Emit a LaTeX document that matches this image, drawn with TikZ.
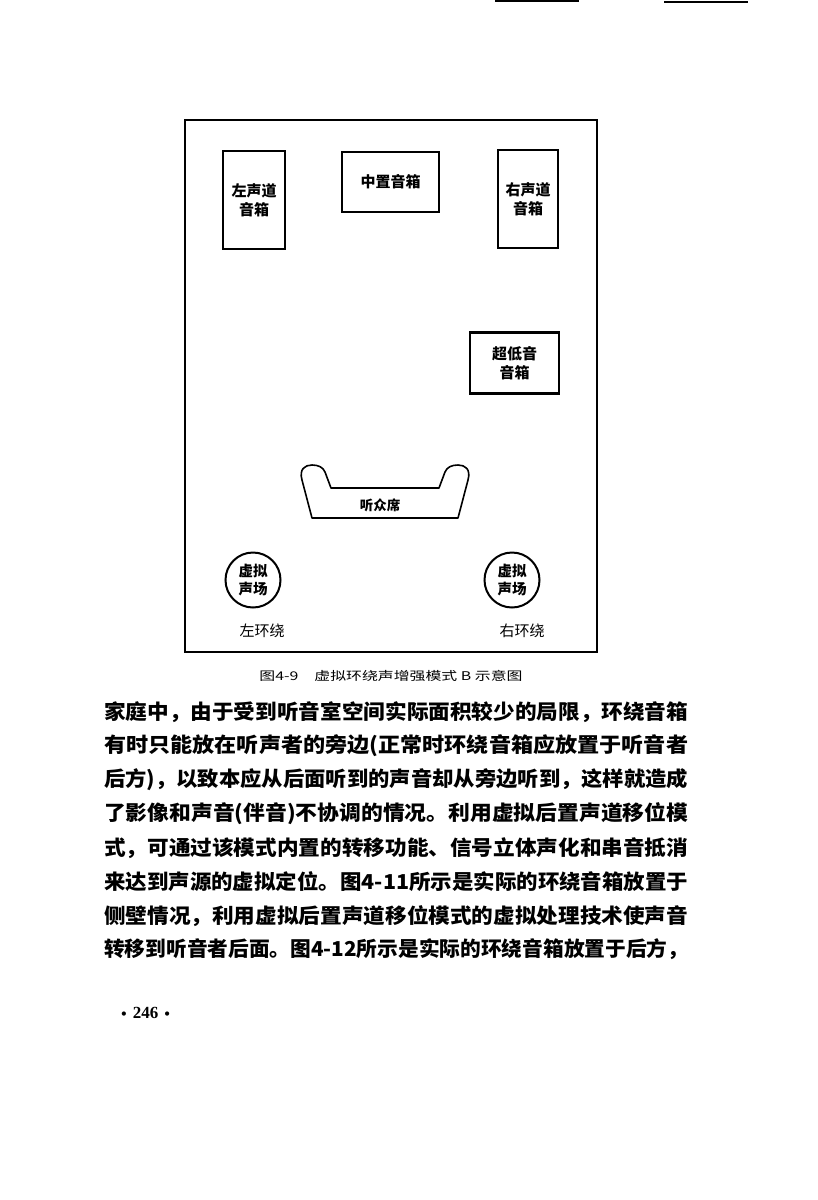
\documentclass[tikz,border=0pt]{standalone}
\usepackage{fontspec}
\usepackage{graphicx}
\setmainfont{Noto Sans CJK SC}
\newfontfamily\numfont{Liberation Serif}
\newfontfamily\dotfont{DejaVu Sans}
\XeTeXlinebreaklocale "zh"
\begin{document}
\begin{tikzpicture}[x=1pt,y=-1pt,
  spk/.style={draw,line width=2.4pt,inner sep=0pt,align=center,
    font=\bfseries\fontsize{15}{18.5}\selectfont},
  vcircle/.style={draw,circle,line width=2pt,inner sep=0pt,minimum size=55pt,align=center,
    font=\bfseries\fontsize{14.5}{18}\selectfont},
  lbl/.style={inner sep=0pt,font=\fontsize{15}{17}\selectfont},
  body/.style={inner sep=0pt,anchor=west,font=\bfseries\fontsize{20.5}{22}\selectfont},
  roomline/.style={line width=2pt},
  sofaline/.style={line width=1.6pt,line join=round}]
\useasboundingbox (0,0) rectangle (818,1200);
% header rules
\coordinate (h1a) at (495,0.8); \coordinate (h1b) at (579,0.8);
\coordinate (h2a) at (664,1.8); \coordinate (h2b) at (748,1.8);
\draw[line width=1.6pt] (h1a) -- (h1b);
\draw[line width=1.6pt] (h2a) -- (h2b);
% room
\node[draw,roomline,inner sep=0pt,minimum width=412pt,minimum height=532pt] (room) at (391,386) {};
% speakers
\node[spk,minimum width=62pt,minimum height=98pt] (L) at (254,200) {左声道\\音箱};
\node[spk,minimum width=97pt,minimum height=60pt] (C) at (390.5,182) {中置音箱};
\node[spk,minimum width=60pt,minimum height=98pt] (R) at (528,199) {右声道\\音箱};
\node[spk,minimum width=89pt,minimum height=61pt] (SW) at (514.5,363) {超低音\\音箱};
% sofa
\draw[sofaline] (312,518) -- (302,480)
  .. controls (299,469) and (305,465) .. (312,465)
  .. controls (318,465) and (323,467) .. (325,472)
  -- (331,488) -- (439,488) -- (445,472)
  .. controls (447,467) and (452,465) .. (458,465)
  .. controls (465,465) and (471,469) .. (468,480)
  -- (458,518) -- cycle;
\node[inner sep=0pt,font=\bfseries\fontsize{13.5}{15}\selectfont] (seat) at (380,505) {听众席};
% virtual surround
\node[vcircle] (VL) at (253,580) {虚拟\\声场};
\node[vcircle] (VR) at (512,580) {虚拟\\声场};
\node[lbl] (SL) at (262,631) {左环绕};
\node[lbl] (SR) at (522,631) {右环绕};
% caption
\node[inner sep=0pt] (cap) at (391,676) {\resizebox{263pt}{\height}{\fontsize{12}{14}\selectfont 图4-9\quad 虚拟环绕声增强模式 B 示意图}};
% body text
\node[body] (t1) at (104,712) {\resizebox{584pt}{\height}{家庭中，由于受到听音室空间实际面积较少的局限，环绕音箱}};
\node[body] (t2) at (104,746) {\resizebox{584pt}{\height}{有时只能放在听声者的旁边(正常时环绕音箱应放置于听音者}};
\node[body] (t3) at (104,780) {\resizebox{584pt}{\height}{后方)，以致本应从后面听到的声音却从旁边听到，这样就造成}};
\node[body] (t4) at (104,814) {\resizebox{584pt}{\height}{了影像和声音(伴音)不协调的情况。利用虚拟后置声道移位模}};
\node[body] (t5) at (104,848) {\resizebox{584pt}{\height}{式，可通过该模式内置的转移功能、信号立体声化和串音抵消}};
\node[body] (t6) at (104,882) {\resizebox{584pt}{\height}{来达到声源的虚拟定位。图4-11所示是实际的环绕音箱放置于}};
\node[body] (t7) at (104,916) {\resizebox{584pt}{\height}{侧壁情况，利用虚拟后置声道移位模式的虚拟处理技术使声音}};
\node[body] (t8) at (104,949) {\resizebox{584pt}{\height}{转移到听音者后面。图4-12所示是实际的环绕音箱放置于后方，}};
% page number
\node[inner sep=0pt,anchor=west,font=\numfont\bfseries\fontsize{17}{19}\selectfont] (pg) at (120,1013) {{\dotfont\fontsize{12}{14}\selectfont•}\hspace{5pt}246\hspace{5pt}{\dotfont\fontsize{12}{14}\selectfont•}};
\end{tikzpicture}
\end{document}
